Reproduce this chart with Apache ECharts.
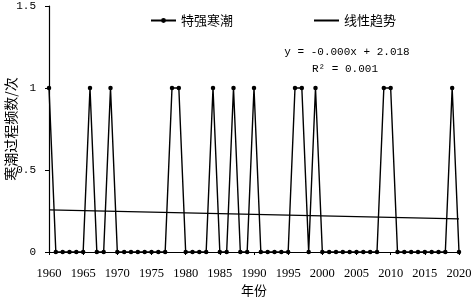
<!DOCTYPE html>
<html>
<head>
<meta charset="utf-8">
<script src="https://cdn.jsdelivr.net/npm/echarts@6/dist/echarts.min.js"></script>
<style>
    html, body { margin: 0; padding: 0; background: #fff; }
    #chart { width: 472px; height: 305px; }
</style>
</head>
<body>
<div id="chart"></div>
<script>
    // 年份 1960-2020
    let years = [];
    for (let y = 1960; y <= 2020; y++) years.push(y);
    // 特强寒潮次数 (每行10年)
    let coldWave = [
        1, 0, 0, 0, 0, 0, 1, 0, 0, 1,
        0, 0, 0, 0, 0, 0, 0, 0, 1, 1,
        0, 0, 0, 0, 1, 0, 0, 1, 0, 0,
        1, 0, 0, 0, 0, 0, 1, 1, 0, 1,
        0, 0, 0, 0, 0, 0, 0, 0, 0, 1,
        1, 0, 0, 0, 0, 0, 0, 0, 0, 1,
        0
    ];
    let yTicks = [0, 0.5, 1, 1.5];
    let equationText = ['y = -0.000x + 2.018', 'R² = 0.001'];

    // 线性趋势 (最小二乘)
    let n = years.length;
    let mx = years.reduce((a, b) => a + b, 0) / n;
    let my = coldWave.reduce((a, b) => a + b, 0) / n;
    let sxy = 0, sxx = 0;
    years.forEach((x, i) => { sxy += (x - mx) * (coldWave[i] - my); sxx += (x - mx) * (x - mx); });
    let slope = sxy / sxx;
    let intercept = my - slope * mx;
    let trend = [[years[0], intercept + slope * years[0]], [years[n - 1], intercept + slope * years[n - 1]]];

    let numFont = '"Liberation Serif", "Noto Sans CJK SC", serif';
    let monoFont = '"Liberation Mono", monospace';
    let cjkFont = '"Noto Sans CJK SC", sans-serif';

    let chart = echarts.init(document.getElementById('chart'));
    let option = {
        animation: false,
        grid: { left: 49, right: 13, top: 6, bottom: 53, outerBoundsMode: 'none' },
        legend: {
            top: 14,
            left: 150,
            padding: 0,
            itemGap: 80,
            itemWidth: 25,
            itemHeight: 6,
            textStyle: { fontFamily: cjkFont, fontSize: 13, color: '#000' },
            data: [
                '特强寒潮',
                { name: '线性趋势', itemStyle: { opacity: 0 } }
            ]
        },
        xAxis: {
            type: 'value',
            min: 1960, max: 2020, interval: 5,
            name: '年份',
            nameLocation: 'middle',
            nameGap: 32,
            nameMoveOverlap: false,
            nameTextStyle: { fontFamily: cjkFont, fontSize: 13, color: '#000' },
            axisLine: { lineStyle: { color: '#000', width: 1.2 } },
            axisTick: { length: 3, lineStyle: { color: '#000' } },
            axisLabel: {
                fontFamily: numFont, fontSize: 12.5, color: '#000', margin: 15,
                formatter: v => String(v)
            },
            splitLine: { show: false }
        },
        yAxis: {
            type: 'value',
            min: 0, max: 1.5, interval: 0.5,
            name: '寒潮过程频数/次',
            nameLocation: 'middle',
            nameGap: 31,
            nameMoveOverlap: false,
            nameTextStyle: { fontFamily: cjkFont, fontSize: 14, color: '#000' },
            axisLine: { show: true, lineStyle: { color: '#000', width: 1.2 } },
            axisTick: { show: true, length: 4, lineStyle: { color: '#000' } },
            axisLabel: {
                fontFamily: monoFont, fontSize: 11, color: '#000', margin: 13,
                formatter: v => yTicks.includes(v) ? String(v) : ''
            },
            splitLine: { show: false }
        },
        graphic: [
            {
                type: 'text',
                x: 347, y: 52,
                style: {
                    text: equationText[0],
                    font: '11px ' + monoFont,
                    fill: '#000',
                    textAlign: 'center',
                    textVerticalAlign: 'middle'
                }
            },
            {
                type: 'text',
                x: 345, y: 69,
                style: {
                    text: equationText[1],
                    font: '11px ' + monoFont,
                    fill: '#000',
                    textAlign: 'center',
                    textVerticalAlign: 'middle'
                }
            }
        ],
        series: [
            {
                name: '特强寒潮',
                type: 'line',
                data: years.map((x, i) => [x, coldWave[i]]),
                symbol: 'circle',
                symbolSize: 4.5,
                itemStyle: { color: '#000' },
                lineStyle: { color: '#000', width: 1.4 },
                z: 2
            },
            {
                name: '线性趋势',
                type: 'line',
                data: trend,
                symbol: 'none',
                itemStyle: { color: '#000' },
                lineStyle: { color: '#000', width: 1.2 },
                z: 1
            }
        ]
    };
    chart.setOption(option);
</script>
</body>
</html>
